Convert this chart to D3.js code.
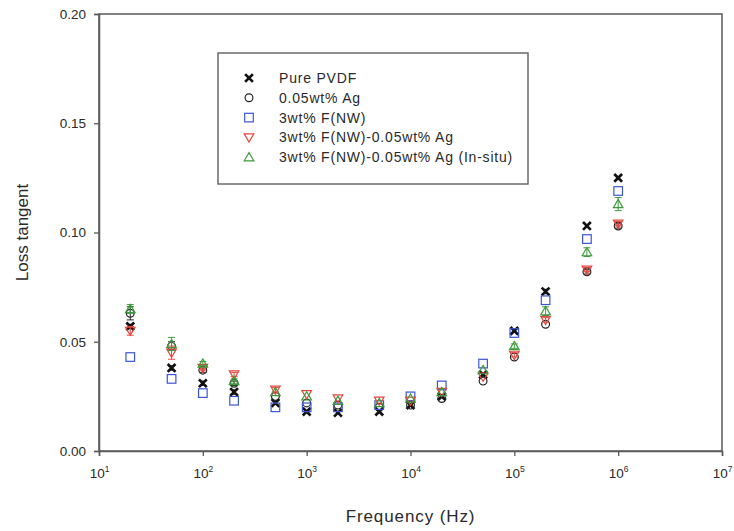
<!DOCTYPE html>
<html>
<head>
<meta charset="utf-8">
<script src="https://cdn.jsdelivr.net/npm/d3@7"></script>
<style>
  html, body { margin: 0; padding: 0; background: #fff; }
  svg { display: block; font-family: "Liberation Sans", Arial, sans-serif; }
</style>
</head>
<body>
<svg id="chart" width="734" height="531"></svg>
<script>
// Measurement frequencies (Hz)
const frequencies = [20, 50, 100, 200, 500, 1e3, 2e3, 5e3, 1e4, 2e4, 5e4, 1e5, 2e5, 5e5, 1e6];

// Loss tangent for each sample
const purePVDF   = [0.057, 0.038, 0.031, 0.027, 0.022, 0.018, 0.0175, 0.018, 0.021, 0.025, 0.035, 0.055, 0.073, 0.103, 0.125];
const ag005      = [0.063, 0.048, 0.037, 0.031, 0.025, 0.022, 0.021, 0.020, 0.021, 0.024, 0.032, 0.043, 0.058, 0.082, 0.103];
const fnw3       = [0.043, 0.033, 0.0265, 0.023, 0.020, 0.020, 0.020, 0.021, 0.025, 0.030, 0.040, 0.054, 0.069, 0.097, 0.119];
const fnwAg      = [0.055, 0.045, 0.038, 0.035, 0.028, 0.026, 0.024, 0.023, 0.023, 0.027, 0.034, 0.044, 0.060, 0.083, 0.104];
const fnwAgInSitu= [0.065, 0.049, 0.040, 0.032, 0.027, 0.025, 0.023, 0.022, 0.024, 0.027, 0.037, 0.048, 0.064, 0.091, 0.113];

// Standard deviations (small, mostly hidden behind the symbols)
const purePVDFErr    = [0.001, 0.001, 0.001, 0.001, 0, 0, 0, 0, 0, 0, 0, 0, 0.001, 0, 0];
const ag005Err       = [0.003, 0.002, 0.001, 0.001, 0, 0, 0, 0, 0, 0, 0, 0, 0, 0.001, 0.001];
const fnw3Err        = [0, 0, 0, 0, 0, 0, 0, 0, 0, 0, 0, 0, 0, 0, 0];
const fnwAgErr       = [0.002, 0.003, 0.001, 0.001, 0.001, 0, 0, 0, 0, 0, 0, 0.001, 0.001, 0.001, 0.001];
const fnwAgInSituErr = [0.002, 0.003, 0.001, 0.001, 0, 0, 0, 0, 0, 0, 0, 0.001, 0.002, 0.002, 0.003];

const seriesNames = ["Pure PVDF", "0.05wt% Ag", "3wt% F(NW)", "3wt% F(NW)-0.05wt% Ag", "3wt% F(NW)-0.05wt% Ag (In-situ)"];
const seriesColors = ["#111111", "#222222", "#3b55d6", "#e4473e", "#3c9a3c"];
const seriesShapes = ["cross", "circle", "square", "triangleDown", "triangleUp"];

const xTickExponents = [1, 2, 3, 4, 5, 6, 7];
const yTickValues = [0.00, 0.05, 0.10, 0.15, 0.20];

const xLabel = "Frequency (Hz)";
const yLabel = "Loss tangent";

const seriesValues = [purePVDF, ag005, fnw3, fnwAg, fnwAgInSitu];
const seriesErrors = [purePVDFErr, ag005Err, fnw3Err, fnwAgErr, fnwAgInSituErr];
const series = seriesNames.map((name, i) => ({
  name, color: seriesColors[i], shape: seriesShapes[i],
  points: frequencies.map((f, j) => ({ f, v: seriesValues[i][j], e: seriesErrors[i][j] }))
}));

const svg = d3.select("#chart");
const margin = { left: 99, right: 12, top: 14, bottom: 80 };
const W = 734, H = 531;
const x0 = margin.left, x1 = W - margin.right;
const y0 = H - margin.bottom, y1 = margin.top;

const x = d3.scaleLog().domain([10, 1e7]).range([x0, x1]);
const y = d3.scaleLinear().domain([0, 0.2]).range([y0, y1]);

const axisColor = "#5a5a5a";
const textColor = "#2a2a2a";

// Frame
svg.append("rect")
  .attr("x", x0).attr("y", y1)
  .attr("width", x1 - x0).attr("height", y0 - y1)
  .attr("fill", "none").attr("stroke", axisColor).attr("stroke-width", 1.5);

// X axis (log, decade ticks with superscript labels)
const xAxis = svg.append("g").attr("transform", `translate(0,${y0})`)
  .call(d3.axisBottom(x).tickValues(xTickExponents.map(e => Math.pow(10, e)))
    .tickSize(5).tickFormat(() => ""));
xAxis.select(".domain").attr("stroke", axisColor).attr("stroke-width", 1.5);
xAxis.selectAll(".tick line").attr("stroke", axisColor).attr("stroke-width", 1.3);
xAxis.selectAll(".tick").each(function(d) {
  const e = Math.round(Math.log10(d));
  const t = d3.select(this).append("text")
    .attr("y", 27).attr("fill", textColor).attr("font-size", 13.5)
    .attr("text-anchor", "middle");
  t.append("tspan").text("10");
  t.append("tspan").attr("dy", -6).attr("font-size", 8.5).text(e);
});

// Y axis
const yAxis = svg.append("g").attr("transform", `translate(${x0},0)`)
  .call(d3.axisLeft(y).tickValues(yTickValues).tickSize(5).tickPadding(8)
    .tickFormat(d3.format(".2f")));
yAxis.select(".domain").attr("stroke", axisColor).attr("stroke-width", 1.5);
yAxis.selectAll(".tick line").attr("stroke", axisColor).attr("stroke-width", 1.3);
yAxis.selectAll(".tick text").attr("fill", textColor).attr("font-size", 13.5)
  .attr("font-family", "Liberation Sans, Arial, sans-serif");

// Axis titles
svg.append("text")
  .attr("x", (x0 + x1) / 2).attr("y", 522)
  .attr("text-anchor", "middle").attr("font-size", 17).attr("letter-spacing", 0.9)
  .attr("fill", textColor)
  .text(xLabel);
svg.append("text")
  .attr("transform", `translate(28,${(y0 + y1) / 2}) rotate(-90)`)
  .attr("text-anchor", "middle").attr("font-size", 17).attr("fill", textColor)
  .text(yLabel);

// Symbol drawing
function drawSymbol(g, shape, color, cx, cy) {
  const s = 4.3;
  if (shape === "cross") {
    g.append("path")
      .attr("d", `M${cx - 3.9},${cy - 3.9}L${cx + 3.9},${cy + 3.9}M${cx - 3.9},${cy + 3.9}L${cx + 3.9},${cy - 3.9}`)
      .attr("stroke", color).attr("stroke-width", 2.7).attr("fill", "none");
  } else if (shape === "circle") {
    g.append("circle").attr("cx", cx).attr("cy", cy).attr("r", 3.9)
      .attr("fill", "none").attr("stroke", color).attr("stroke-width", 1.2);
  } else if (shape === "square") {
    g.append("rect").attr("x", cx - s).attr("y", cy - s).attr("width", 2 * s).attr("height", 2 * s)
      .attr("fill", "none").attr("stroke", color).attr("stroke-width", 1.2);
  } else if (shape === "triangleDown") {
    g.append("path")
      .attr("d", `M${cx - 4.8},${cy - 3.6}L${cx + 4.8},${cy - 3.6}L${cx},${cy + 4.6}Z`)
      .attr("fill", "none").attr("stroke", color).attr("stroke-width", 1.2);
  } else if (shape === "triangleUp") {
    g.append("path")
      .attr("d", `M${cx - 4.8},${cy + 3.6}L${cx + 4.8},${cy + 3.6}L${cx},${cy - 4.6}Z`)
      .attr("fill", "none").attr("stroke", color).attr("stroke-width", 1.2);
  }
}

// Data points with error bars
const plot = svg.append("g");
series.forEach(s => {
  const g = plot.append("g");
  s.points.forEach(p => {
    const cx = x(p.f), cy = y(p.v);
    if (p.e > 0) {
      const top = y(p.v + p.e), bot = y(p.v - p.e);
      g.append("path")
        .attr("d", `M${cx},${top}L${cx},${bot}M${cx - 3.5},${top}L${cx + 3.5},${top}M${cx - 3.5},${bot}L${cx + 3.5},${bot}`)
        .attr("stroke", s.color).attr("stroke-width", 1).attr("fill", "none");
    }
    drawSymbol(g, s.shape, s.color, cx, cy);
  });
});

// Legend
const legend = svg.append("g");
legend.append("rect")
  .attr("x", 218).attr("y", 53).attr("width", 310).attr("height", 131)
  .attr("fill", "#fff").attr("stroke", "#6a6a6a").attr("stroke-width", 1.5);
series.forEach((s, i) => {
  const ly = 78 + i * 19.8;
  drawSymbol(legend, s.shape, s.color, 249, ly);
  legend.append("text")
    .attr("x", 279).attr("y", ly + 5)
    .attr("font-size", 14).attr("letter-spacing", 0.8).attr("fill", textColor)
    .text(s.name);
});
</script>
</body>
</html>
